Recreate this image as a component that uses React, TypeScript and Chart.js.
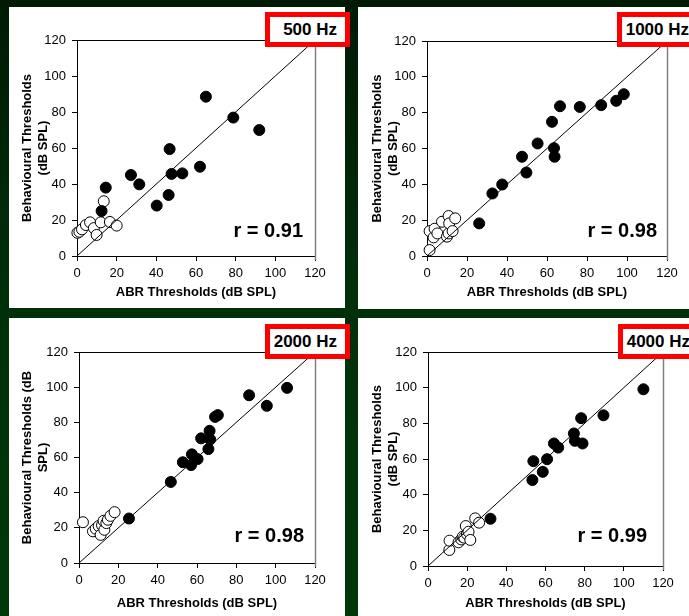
import React, { useEffect, useRef } from "react";
import { Chart, registerables } from "chart.js";

Chart.register(...registerables);

const FONT = "'Liberation Sans', Arial, Helvetica, sans-serif";

// Tick labels shared by both axes
const axisTicks = [0, 20, 40, 60, 80, 100, 120];
// Line of equality
const identityLine = [[0, 0], [120, 120]];

// 500 Hz
const filled500 = [[12.4, 25], [14.5, 38], [27.2, 45], [31.4, 39.8], [40.2, 28], [46.2, 33.9], [46.7, 59.4], [47.7, 45.6], [53.1, 45.9], [62, 49.6], [65, 88.5], [78.8, 76.9], [91.9, 70]];
const open500 = [[0.2, 12.9], [1.2, 13.5], [2.5, 14.8], [4.5, 17.2], [6.6, 18.7], [8.5, 15.5], [9.9, 11.7], [12, 18.7], [13.5, 30.4], [16.6, 18.9], [20, 16.9]];

// 1000 Hz
const filled1000 = [[26.1, 18.2], [32.7, 34.9], [37.6, 39.9], [47.5, 55.4], [49.7, 46.6], [55.3, 62.8], [62.5, 74.9], [63.5, 60.2], [63.8, 55.4], [66.5, 83.6], [76.4, 83.2], [87.1, 84.2], [94.6, 86.6], [98.4, 90.3]];
const open1000 = [[1.3, 3.3], [1.3, 13.9], [3.3, 10.4], [3.8, 15.2], [5.2, 12.6], [7.5, 19.1], [10, 10.8], [10.8, 12.6], [10.8, 22.3], [11.1, 18.2], [12.8, 13.9], [14.1, 21]];

// 2000 Hz
const filled2000 = [[25.4, 25.3], [46.7, 46.1], [52.8, 57.3], [57, 55.7], [57.4, 61.8], [60.3, 59.1], [62.1, 70.9], [65.8, 64.8], [66.7, 70.3], [66.4, 75.2], [69.2, 83.1], [70.6, 84.1], [86.5, 95.4], [95.5, 89.4], [105.8, 99.6]];
const open2000 = [[2, 23.2], [7.1, 18], [8.5, 19.5], [10, 21], [11, 16], [11.7, 21.5], [12.9, 18.9], [12.5, 24], [13.9, 22.7], [14.7, 24.6], [16, 26.8], [18.1, 28.9]];

// 4000 Hz
const filled4000 = [[31.9, 26.5], [53.3, 48.2], [53.8, 58.8], [58.6, 52.8], [60.8, 59.9], [64.3, 68.7], [66.5, 66.4], [74.5, 74.3], [75, 70.2], [78.9, 68.7], [78.2, 82.9], [89.6, 84.5], [110, 99.1]];
const open4000 = [[10.9, 9], [11, 14.2], [15.6, 13.3], [17, 14.9], [17.7, 16.4], [18.5, 15.9], [19.3, 22.4], [19.9, 17.9], [20.7, 19.2], [21.6, 14.6], [24.1, 26.7], [26.1, 24.3]];

const frequencies = ["500 Hz", "1000 Hz", "2000 Hz", "4000 Hz"];
const correlations = ["r = 0.91", "r = 0.98", "r = 0.98", "r = 0.99"];
const xTitle = "ABR Thresholds (dB SPL)";
const yTitles = [
  ["Behavioural Thresholds", "(dB SPL)"],
  ["Behavioural Thresholds", "(dB SPL)"],
  ["Behavioural Thresholds (dB", "SPL)"],
  ["Behavioural Thresholds", "(dB SPL)"],
];
const filledSets = [filled500, filled1000, filled2000, filled4000];
const openSets = [open500, open1000, open2000, open4000];

// Layout (positions/sizes) per panel
const layouts = [
  { x: 9, y: 7, w: 336, h: 301, l: 68, r: 30, t: 33, b: 52, yT: 18, xT: 15, rDx: 12, rDy: 19, bx: 265, by: 12 },
  { x: 358, y: 7, w: 331, h: 302, l: 69, r: 22, t: 34, b: 53, yT: 19, xT: 16, rDx: 10, rDy: 19, bx: 617, by: 12 },
  { x: 9, y: 318, w: 336, h: 298, l: 70, r: 30, t: 34, b: 53, yT: 18, xT: 12, rDx: 11, rDy: 21, bx: 265, by: 324 },
  { x: 358, y: 318, w: 331, h: 298, l: 70, r: 26, t: 34, b: 50, yT: 19, xT: 12, rDx: 16, rDy: 24, bx: 618, by: 324 },
];

const toXY = (arr: number[][]) => arr.map(([x, y]) => ({ x, y }));

const framePlugin = {
  id: "frame",
  afterDraw(chart: any) {
    const { ctx, chartArea: a } = chart;
    const o = chart.options.plugins.frame;
    ctx.save();
    ctx.lineWidth = 1;
    ctx.strokeStyle = "#000";
    ctx.beginPath();
    ctx.moveTo(a.left, Math.round(a.top) + 0.5);
    ctx.lineTo(a.right, Math.round(a.top) + 0.5);
    ctx.stroke();
    ctx.strokeStyle = "#808080";
    ctx.lineWidth = 1.5;
    ctx.beginPath();
    ctx.moveTo(Math.round(a.right) + 0.5, a.top);
    ctx.lineTo(Math.round(a.right) + 0.5, a.bottom + 4);
    ctx.stroke();
    ctx.font = `bold 20px ${FONT}`;
    ctx.fillStyle = "#000";
    ctx.textAlign = "right";
    ctx.textBaseline = "alphabetic";
    ctx.fillText(o.text, a.right - o.dx, a.bottom - o.dy);
    ctx.restore();
  },
};

function Panel({ idx }: { idx: number }) {
  const ref = useRef<HTMLCanvasElement>(null);
  const L = layouts[idx];
  useEffect(() => {
    if (!ref.current) return;
    const tickCfg = {
      color: "#000",
      font: { family: FONT, size: 13 },
      maxRotation: 0,
    };
    const gridCfg = {
      drawOnChartArea: false,
      drawTicks: true,
      tickLength: 5,
      color: "#000",
      lineWidth: 1,
    };
    const setTicks = (s: any) => {
      s.ticks = axisTicks.map((v) => ({ value: v }));
    };
    const chart = new Chart(ref.current, {
      type: "scatter",
      data: {
        datasets: [
          {
            data: toXY(identityLine),
            showLine: true,
            borderColor: "#000",
            borderWidth: 1,
            pointRadius: 0,
            fill: false,
          } as any,
          {
            data: toXY(filledSets[idx]),
            backgroundColor: "#000",
            borderColor: "#000",
            borderWidth: 1,
            pointRadius: 5.5,
            clip: false,
          },
          {
            data: toXY(openSets[idx]),
            backgroundColor: "#fff",
            borderColor: "#000",
            borderWidth: 1,
            pointRadius: 5.5,
            clip: false,
          },
        ],
      },
      options: {
        animation: false,
        responsive: false,
        maintainAspectRatio: false,
        events: [],
        layout: { padding: { left: 0, right: L.r, top: L.t, bottom: 0 } },
        plugins: {
          legend: { display: false },
          tooltip: { enabled: false },
          frame: { text: correlations[idx], dx: L.rDx, dy: L.rDy },
        } as any,
        scales: {
          x: {
            type: "linear",
            min: 0,
            max: 120,
            afterBuildTicks: setTicks,
            afterFit: (s: any) => {
              s.height = L.b;
            },
            grid: gridCfg,
            border: { display: true, color: "#000", width: 1 },
            ticks: { ...tickCfg, padding: 5 },
            title: {
              display: true,
              text: xTitle,
              color: "#000",
              font: { family: FONT, size: 13, weight: "bold", lineHeight: 1.25 },
              padding: { top: 0, bottom: L.xT - 8 },
            },
          },
          y: {
            type: "linear",
            min: 0,
            max: 120,
            afterBuildTicks: setTicks,
            afterFit: (s: any) => {
              s.width = L.l;
            },
            grid: gridCfg,
            border: { display: true, color: "#000", width: 1 },
            ticks: { ...tickCfg, padding: 6 },
            title: {
              display: true,
              text: yTitles[idx],
              color: "#000",
              font: { family: FONT, size: 13, weight: "bold", lineHeight: 1.25 },
              padding: { top: L.yT - 8, bottom: 0 },
            },
          },
        },
      } as any,
      plugins: [framePlugin],
    });
    return () => chart.destroy();
  }, [idx]);
  return (
    <div
      style={{
        position: "absolute",
        left: L.x,
        top: L.y,
        width: L.w,
        height: L.h,
        background: "#fff",
      }}
    >
      <canvas ref={ref} width={L.w} height={L.h} style={{ width: L.w, height: L.h, display: "block" }} />
    </div>
  );
}

function FreqBox({ idx }: { idx: number }) {
  const L = layouts[idx];
  return (
    <div
      style={{
        position: "absolute",
        left: L.bx,
        top: L.by,
        width: 85,
        height: 35,
        boxSizing: "border-box",
        border: "5px solid #ff0000",
        background: "#fff",
        fontFamily: FONT,
        fontWeight: "bold",
        fontSize: 17,
        color: "#000",
        textAlign: "right",
        paddingRight: 8,
        lineHeight: "25px",
        whiteSpace: "nowrap",
      }}
    >
      {frequencies[idx]}
    </div>
  );
}

export default function App() {
  return (
    <div
      style={{
        position: "fixed",
        left: 0,
        top: 0,
        width: 689,
        height: 616,
        overflow: "hidden",
        background: "linear-gradient(180deg, #001a04 0%, #00300a 50%, #003808 100%)",
      }}
    >
      {[0, 1, 2, 3].map((i) => (
        <Panel key={"p" + i} idx={i} />
      ))}
      {[0, 1, 2, 3].map((i) => (
        <FreqBox key={"b" + i} idx={i} />
      ))}
    </div>
  );
}
